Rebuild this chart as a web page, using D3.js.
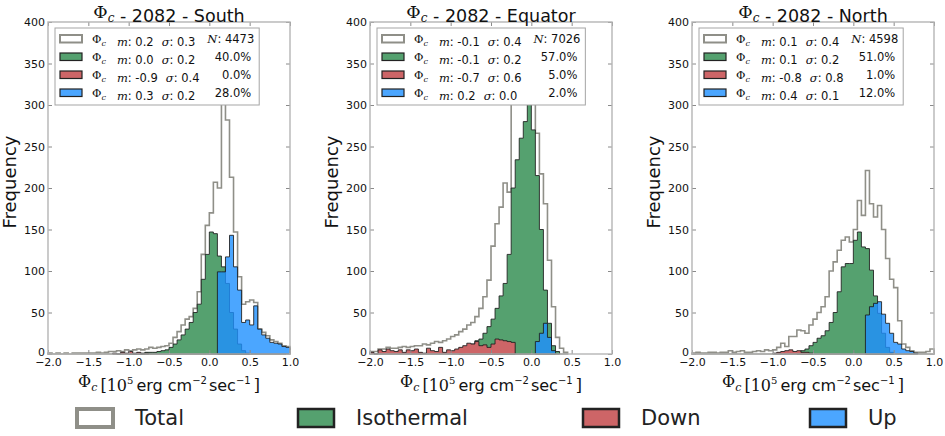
<!DOCTYPE html>
<html>
<head>
<meta charset="utf-8">
<script src="https://cdn.jsdelivr.net/npm/d3@7"></script>
<style>
  body { margin: 0; background: #fff; }
  text { font-family: "DejaVu Sans", sans-serif; fill: #111; }
  .math { font-family: "DejaVu Serif", serif; }
  .it { font-style: italic; }
</style>
</head>
<body>
<svg id="chart" width="945" height="436"></svg>
<script>
// histogram bins: 60 bins of 0.05 from -2.0 to 1.0
var binEdges = d3.range(61).map(function(i) { return -2 + i * 0.05; });
var xTicks = [-2.0, -1.5, -1.0, -0.5, 0.0, 0.5, 1.0];
var yTicks = [0, 50, 100, 150, 200, 250, 300, 350, 400];

var regions = ["South", "Equator", "North"];
var year = "2082";
var categories = ["Total", "Isothermal", "Down", "Up"];

// counts per bin
var southTotal = [1,0,1,0,1,0,1,1,1,1, 1,1,2,1,2,3,3,4,3,5, 4,5,6,5,6,8,7,8,9,10,
  13,20,27,35,42,45,55,75,120,155, 170,207,200,335,282,213,147,93,60,63, 65,62,30,26,22,17,15,13,10,9];
var southIso = [0,0,0,0,0,0,0,0,0,0, 0,0,0,0,0,0,0,0,0,0, 1,0,1,1,2,2,2,3,4,5,
  8,12,17,23,30,38,50,60,90,120, 147,145,118,105,85,50,30,12,4,1, 0,0,0,0,0,0,0,0,0,0];
var southDown = [0,0,0,0,0,0,0,0,0,0, 0,0,0,0,0,0,1,0,2,1, 3,1,2,0,1,0,0,0,0,0,
  0,0,0,0,0,0,0,0,0,0, 0,0,0,0,0,0,0,0,0,0, 0,0,0,0,0,0,0,0,0,0];
var southUp = [0,0,0,0,0,0,0,0,0,0, 0,0,0,0,0,0,0,0,0,0, 0,0,0,0,0,0,0,0,0,0,
  0,0,0,0,0,0,0,0,0,0, 0,0,99,99,117,143,105,77,38,41, 35,58,30,23,19,14,13,12,9,8];

var equatorTotal = [3,3,6,6,8,7,7,8,9,8, 9,10,10,12,11,13,15,14,16,18, 21,23,27,30,35,38,45,55,69,89,
  130,157,177,206,195,320,340,355,360,360, 320,266,217,181,113,57,20,7,2,0, 0,0,0,0,0,0,0,0,0,0];
var equatorIso = [0,0,0,0,0,0,0,0,0,0, 0,0,0,0,0,0,0,0,0,0, 0,0,2,4,7,12,16,18,25,33,
  42,55,70,85,120,200,234,260,280,305, 270,215,150,77,37,10,3,0,0,0, 0,0,0,0,0,0,0,0,0,0];
var equatorDown = [2,0,5,3,6,4,3,5,2,5, 4,6,2,1,7,4,3,8,2,5, 4,6,8,10,13,12,15,10,11,8,
  12,18,17,16,15,14,0,0,0,0, 0,0,0,0,0,0,0,0,0,0, 0,0,0,0,0,0,0,0,0,0];
var equatorUp = [0,0,0,0,0,0,0,0,0,0, 0,0,0,0,0,0,0,0,0,0, 0,0,0,0,0,0,0,0,0,0,
  0,0,0,0,0,0,0,0,0,0, 0,15,25,37,20,4,0,0,0,0, 0,0,0,0,0,0,0,0,0,0];

var northTotal = [1,2,1,1,2,2,1,2,2,4, 2,3,4,2,2,3,4,3,5,4, 5,8,13,9,21,21,29,28,25,35,
  42,50,57,69,100,111,125,137,141,135, 150,185,167,221,181,165,179,150,115,90, 80,40,12,8,4,2,2,2,3,6];
var northIso = [0,0,0,0,0,0,0,0,0,0, 0,0,0,0,0,0,0,0,0,0, 0,0,0,0,0,0,3,4,6,10,
  14,19,22,28,38,50,75,105,109,109, 137,147,129,127,101,70,49,25,8,2, 0,0,0,0,0,0,0,0,0,0];
var northDown = [0,0,0,0,0,0,0,0,0,0, 0,0,0,0,0,0,0,0,0,0, 1,2,3,4,5,3,4,2,2,1,
  0,0,0,0,0,0,0,0,0,0, 0,0,0,0,0,0,0,0,0,0, 0,0,0,0,0,0,0,0,0,0];
var northUp = [0,0,0,0,0,0,0,0,0,0, 0,0,0,0,0,0,0,0,0,0, 0,0,0,0,0,0,0,0,0,0,
  0,0,0,0,0,0,0,0,0,0, 0,0,0,47,57,61,63,48,37,25, 14,12,6,4,3,1,0,0,0,0];

// legend statistics
var southMean = ["0.2", "0.0", "-0.9", "0.3"];
var southSigma = ["0.3", "0.2", "0.4", "0.2"];
var southN = "4473";
var southPct = ["40.0%", "0.0%", "28.0%"];
var equatorMean = ["-0.1", "-0.1", "-0.7", "0.2"];
var equatorSigma = ["0.4", "0.2", "0.6", "0.0"];
var equatorN = "7026";
var equatorPct = ["57.0%", "5.0%", "2.0%"];
var northMean = ["0.1", "0.1", "-0.8", "0.4"];
var northSigma = ["0.4", "0.2", "0.8", "0.1"];
var northN = "4598";
var northPct = ["51.0%", "1.0%", "12.0%"];

var panels = [
  {region: regions[0], series: [southTotal, southIso, southDown, southUp], mean: southMean, sigma: southSigma, n: southN, pct: southPct},
  {region: regions[1], series: [equatorTotal, equatorIso, equatorDown, equatorUp], mean: equatorMean, sigma: equatorSigma, n: equatorN, pct: equatorPct},
  {region: regions[2], series: [northTotal, northIso, northDown, northUp], mean: northMean, sigma: northSigma, n: northN, pct: northPct}
];

var fills = ["#ffffff", "#55a16f", "#cd6567", "#1e90ff"];
var fillOpacity = [1, 1, 1, 0.8];
var strokes = ["#8f8f88", "#1c1c1c", "#1c1c1c", "#1c1c1c"];
var strokeWidths = [1.6, 1, 1, 1];

var svg = d3.select("#chart");
var panelLeft = [48, 370, 692], panelTop = 22;
var pw = 242, ph = 332;

var x = d3.scaleLinear().domain([-2, 1]).range([0, pw]);
var y = d3.scaleLinear().domain([0, 400]).range([ph, 0]);

// outline of a stepfilled histogram
function stepPath(counts) {
  var first = -1, last = -1;
  counts.forEach(function(c, i) { if (c > 0) { if (first < 0) first = i; last = i; } });
  if (first < 0) return null;
  var pts = [[x(binEdges[first]), y(0)]];
  for (var i = first; i <= last; i++) {
    pts.push([x(binEdges[i]), y(counts[i])]);
    pts.push([x(binEdges[i + 1]), y(counts[i])]);
  }
  pts.push([x(binEdges[last + 1]), y(0)]);
  return d3.line()(pts) + "Z";
}

function phiC(t, bigSize, smallSize, shift) {
  t.append("tspan").attr("class", "math").style("font-size", bigSize).text("Φ");
  t.append("tspan").attr("class", "math it").attr("dy", shift).style("font-size", smallSize).text("c");
  t.append("tspan").attr("dy", -shift).text("");
}

panels.forEach(function(p, pi) {
  var g = svg.append("g").attr("transform", "translate(" + panelLeft[pi] + "," + panelTop + ")");

  // histograms
  p.series.forEach(function(counts, k) {
    var d = stepPath(counts);
    if (!d) return;
    g.append("path")
      .attr("d", d)
      .attr("fill", fills[k])
      .attr("fill-opacity", fillOpacity[k])
      .attr("stroke", strokes[k])
      .attr("stroke-opacity", k == 0 ? 1 : 0.85)
      .attr("stroke-width", strokeWidths[k])
      .attr("stroke-linejoin", "miter");
  });

  // axes, ticks pointing inwards
  var xb = g.append("g").attr("transform", "translate(0," + ph + ")")
    .call(d3.axisBottom(x).tickValues(xTicks).tickFormat(d3.format(".1f")).tickSizeInner(-4).tickSizeOuter(0).tickPadding(4));
  var xt = g.append("g")
    .call(d3.axisTop(x).tickValues(xTicks).tickFormat("").tickSizeInner(-4).tickSizeOuter(0));
  var yl = g.append("g")
    .call(d3.axisLeft(y).tickValues(yTicks).tickSizeInner(-4).tickSizeOuter(0).tickPadding(3));
  var yr = g.append("g").attr("transform", "translate(" + pw + ",0)")
    .call(d3.axisRight(y).tickValues(yTicks).tickFormat("").tickSizeInner(-4).tickSizeOuter(0));
  [xb, xt, yl, yr].forEach(function(a) {
    a.select(".domain").remove();
    a.selectAll(".tick line").attr("stroke", "#8a8a8a");
    a.selectAll("text").attr("font-size", 11).attr("font-family", "DejaVu Sans").style("fill", "#111");
  });
  // the zero label sits just above the first x label, as in the original
  yl.selectAll(".tick text").filter(function(d) { return d == 0; }).attr("dy", "0.1em");

  g.append("rect")
    .attr("width", pw).attr("height", ph)
    .attr("fill", "none").attr("stroke", "#b5b5b5").attr("stroke-width", 1.4);

  // title
  var title = g.append("text").attr("x", pw / 2).attr("y", -4)
    .attr("text-anchor", "middle").style("font-size", "17.5px");
  phiC(title, "17.5px", "12px", 4);
  title.append("tspan").text(" - " + year + " - " + p.region);

  // axis labels
  g.append("text")
    .attr("transform", "translate(-32," + (ph / 2 - 6) + ") rotate(-90)")
    .attr("text-anchor", "middle").style("font-size", "18px")
    .text("Frequency");

  var xl = g.append("text").attr("x", pw / 2).attr("y", ph + 33)
    .attr("text-anchor", "middle").style("font-size", "16px");
  phiC(xl, "16px", "11px", 4);
  xl.append("tspan").attr("class", "math").attr("dx", 3).text("[10");
  xl.append("tspan").attr("class", "math").attr("dy", -7).style("font-size", "10px").text("5");
  xl.append("tspan").attr("dy", 7).attr("dx", 3).text("erg cm");
  xl.append("tspan").attr("dy", -7).style("font-size", "10px").text("−2");
  xl.append("tspan").attr("dy", 7).attr("dx", 2).text("sec");
  xl.append("tspan").attr("dy", -7).style("font-size", "10px").text("−1");
  xl.append("tspan").attr("class", "math").attr("dy", 7).attr("dx", 3).text("]");

  // inner legend
  var lg = g.append("g").attr("transform", "translate(7,6)");
  var box = lg.append("rect").attr("height", 77).attr("fill", "#fff").attr("stroke", "#a5a5a5").attr("stroke-width", 1);
  var rowY = [11, 29, 47, 65];
  var mains = [], thirds = [];
  categories.forEach(function(c, k) {
    lg.append("rect")
      .attr("x", 5).attr("y", rowY[k] - 4).attr("width", 22).attr("height", 7.5)
      .attr("fill", fills[k]).attr("fill-opacity", fillOpacity[k])
      .attr("stroke", k == 0 ? "#8f8f88" : "#222").attr("stroke-width", k == 0 ? 2 : 1.2);
    var t = lg.append("text").attr("x", 37).attr("y", rowY[k] + 4).style("font-size", "11.5px");
    phiC(t, "11.5px", "8px", 2.5);
    t.append("tspan").attr("class", "math it").attr("dx", 11).text("m");
    t.append("tspan").text(": " + p.mean[k]);
    t.append("tspan").attr("class", "math it").attr("dx", 8).text("σ");
    t.append("tspan").text(": " + p.sigma[k]);
    var third = lg.append("text").attr("y", rowY[k] + 4).attr("text-anchor", "end").style("font-size", "11.5px");
    if (k == 0) {
      third.append("tspan").attr("class", "math it").text("N");
      third.append("tspan").text(": " + p.n);
    } else {
      third.text(p.pct[k - 1]);
    }
    mains.push(t.node().getBBox().width);
    thirds.push(third);
  });
  // first row sets the width: N column follows its sigma text
  var nEnd = 37 + mains[0] + 11 + thirds[0].node().getBBox().width;
  var boxW = nEnd + 5;
  for (var k = 1; k < 4; k++) {
    boxW = Math.max(boxW, 37 + mains[k] + 8 + thirds[k].node().getBBox().width + 8);
  }
  box.attr("width", boxW);
  thirds.forEach(function(third, k) { third.attr("x", k == 0 ? boxW - 5 : boxW - 8); });
});

// bottom legend
var keyX = [77, 298, 583, 810];
var key = svg.append("g");
categories.forEach(function(c, k) {
  key.append("rect")
    .attr("x", keyX[k]).attr("y", 409).attr("width", 36).attr("height", 18)
    .attr("fill", fills[k]).attr("fill-opacity", fillOpacity[k])
    .attr("stroke", k == 0 ? "#8f8f88" : "#222")
    .attr("stroke-width", k == 0 ? 4 : 2.5);
  key.append("text")
    .attr("x", keyX[k] + 58).attr("y", 418)
    .attr("dominant-baseline", "central")
    .style("font-size", "21px").style("fill", "#222")
    .text(c);
});
</script>
</body>
</html>
